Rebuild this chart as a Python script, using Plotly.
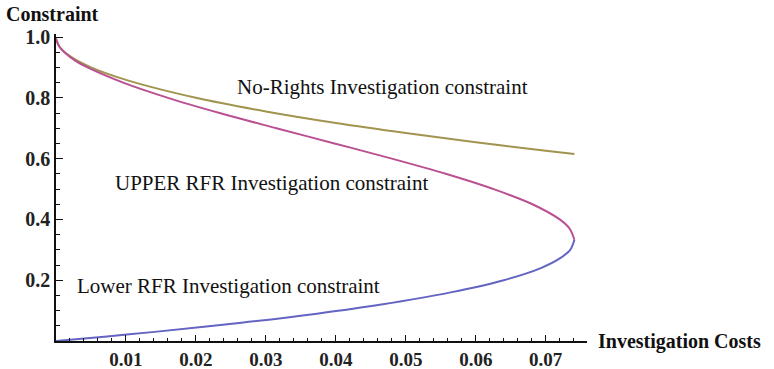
import plotly.graph_objects as go

# ---- data ----
# RFR constraint, upper branch (costs, constraint)
upper_x = [0.0, 0.00044, 0.0012, 0.0029, 0.0045, 0.0096, 0.016, 0.0234, 0.0315,
           0.0398, 0.048, 0.0557, 0.0625, 0.0681, 0.072, 0.0734, 0.0741]
upper_y = [0.995, 0.97, 0.95, 0.92, 0.90, 0.85, 0.80, 0.75, 0.70,
           0.65, 0.60, 0.55, 0.50, 0.45, 0.40, 0.37, 0.333]
# RFR constraint, lower branch
lower_x = [0.0741, 0.0735, 0.0719, 0.0693, 0.064, 0.0564, 0.0465, 0.0373,
           0.0265, 0.0141, 0.0073, 0.0]
lower_y = [0.333, 0.30, 0.27, 0.24, 0.20, 0.16, 0.12, 0.09,
           0.06, 0.03, 0.015, 0.0]
# No-Rights constraint
norights_x = [0.0, 0.0005, 0.002, 0.005, 0.01, 0.02, 0.03, 0.04, 0.05, 0.06, 0.07, 0.0741]
norights_y = [0.995, 0.968, 0.937, 0.90, 0.859, 0.80, 0.755, 0.717, 0.684, 0.654, 0.626, 0.615]

x_ticks = [0.01, 0.02, 0.03, 0.04, 0.05, 0.06, 0.07]
x_labels = ["0.01", "0.02", "0.03", "0.04", "0.05", "0.06", "0.07"]
y_ticks = [0.2, 0.4, 0.6, 0.8, 1.0]
y_labels = ["0.2", "0.4", "0.6", "0.8", "1.0"]

curve_labels = ["No-Rights Investigation constraint",
                "UPPER RFR Investigation constraint",
                "Lower RFR Investigation constraint"]
label_x = [0.0467, 0.0308, 0.0246]
label_y = [0.836, 0.521, 0.18]

OLIVE = "rgb(160,148,78)"
PINK = "rgb(185,80,145)"
BLUE = "rgb(100,100,195)"
SERIF = "Liberation Serif"

fig = go.Figure()
fig.add_trace(go.Scatter(x=norights_x, y=norights_y, mode="lines",
                         line=dict(color=OLIVE, width=2, shape="spline")))
fig.add_trace(go.Scatter(x=upper_x, y=upper_y, mode="lines",
                         line=dict(color=PINK, width=2, shape="spline")))
fig.add_trace(go.Scatter(x=lower_x, y=lower_y, mode="lines",
                         line=dict(color=BLUE, width=2, shape="spline")))

for t, xx, yy in zip(curve_labels, label_x, label_y):
    fig.add_annotation(x=xx, y=yy, xref="x", yref="y", text=t, showarrow=False,
                       font=dict(family=SERIF, size=21, color="#111"))

fig.add_annotation(x=0, y=1, xref="paper", yref="paper", xanchor="left", yanchor="middle",
                   text="<b>Constraint</b>", showarrow=False, xshift=-52, yshift=20,
                   font=dict(family=SERIF, size=20, color="#111"))
fig.add_annotation(x=1, y=0, xref="paper", yref="paper", xanchor="left", yanchor="middle",
                   text="<b>Investigation Costs</b>", showarrow=False, xshift=9,
                   font=dict(family=SERIF, size=20, color="#111"))

fig.update_layout(
    template="none",
    width=774, height=369,
    margin=dict(l=56, r=187, t=34, b=28, pad=0),
    paper_bgcolor="white", plot_bgcolor="white",
    showlegend=False,
    font=dict(family=SERIF, color="#111"),
)
fig.update_xaxes(range=[0, 0.0759], showgrid=False, zeroline=False, automargin=False,
                 showline=True, linecolor="#111", linewidth=1.5,
                 ticks="inside", ticklen=6, tickwidth=1.2, tickcolor="#111",
                 tickvals=x_ticks, ticktext=["<b>%s</b>" % s for s in x_labels],
                 tickfont=dict(family=SERIF, size=19, color="#222"),
                 minor=dict(ticks="inside", dtick=0.002, ticklen=3, tickcolor="#111", tickwidth=1, showgrid=False))
fig.update_yaxes(range=[0, 1.01], showgrid=False, zeroline=False, automargin=False,
                 showline=True, linecolor="#111", linewidth=1.5,
                 ticks="inside", ticklen=7, tickwidth=1.2, tickcolor="#111",
                 tickvals=y_ticks, ticktext=["<b>%s</b>" % s for s in y_labels],
                 tickfont=dict(family=SERIF, size=20, color="#222"),
                 minor=dict(ticks="inside", dtick=0.05, ticklen=4, tickcolor="#111", tickwidth=1, showgrid=False))

fig.write_html("out.html", config={"displayModeBar": False},
               post_script="document.body.style.margin='0';")
